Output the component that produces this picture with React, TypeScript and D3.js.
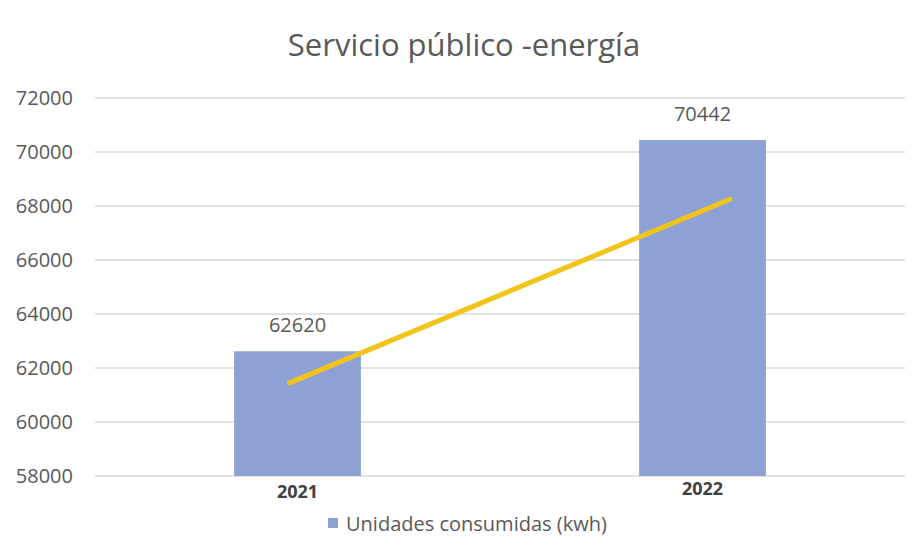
import React from "react";
import * as d3 from "d3";

const categories = ["2021", "2022"];
const values = [62620, 70442];
const yTicks = [58000, 60000, 62000, 64000, 66000, 68000, 70000, 72000];
// trend line endpoints (category index position, value)
const trendX = [-0.02, 1.068];
const trendY = [61450, 68250];
const title = "Servicio público -energía";
const legendLabel = "Unidades consumidas (kwh)";

const W = 919;
const H = 557;
const left = 95;
const right = 905;
const top = 98;
const bottom = 476;

export default function App() {
  const x = d3.scaleBand<string>().domain(categories).range([left, right]).paddingInner(0.687).paddingOuter(0.3435);
  const y = d3.scaleLinear().domain([58000, 72000]).range([bottom, top]);
  const xi = d3
    .scaleLinear()
    .domain([0, 1])
    .range([x(categories[0])! + x.bandwidth() / 2, x(categories[1])! + x.bandwidth() / 2]);
  const line = d3
    .line<number>()
    .x((_, i) => xi(trendX[i]))
    .y((d) => y(d));
  const font = "'Open Sans', 'Noto Sans', sans-serif";
  const textColor = "#595959";
  const xLabelDy = [16, 13];
  return (
    <svg width={W} height={H} style={{ position: "absolute", left: 0, top: 0 }} fontFamily={font}>
      <rect width={W} height={H} fill="#fff" />
      <text x={464} y={56} textAnchor="middle" fontSize={31} fill={textColor}>
        {title}
      </text>
      {yTicks.map((t) => (
        <g key={t}>
          <line x1={left} x2={right} y1={y(t)} y2={y(t)} stroke="#d9d9d9" strokeWidth={1.3} />
          <text x={73} y={y(t)} dy="0.35em" textAnchor="end" fontSize={20} fill={textColor}>
            {t}
          </text>
        </g>
      ))}
      {categories.map((c, i) => (
        <g key={c}>
          <rect x={x(c)} y={y(values[i])} width={x.bandwidth()} height={bottom - y(values[i])} fill="#8EA1D4" />
          <text
            x={x(c)! + x.bandwidth() / 2}
            y={y(values[i]) - 26}
            dy="0.35em"
            textAnchor="middle"
            fontSize={20}
            fill={textColor}
          >
            {values[i]}
          </text>
          <text
            x={x(c)! + x.bandwidth() / 2}
            y={bottom + xLabelDy[i]}
            dy="0.35em"
            textAnchor="middle"
            fontSize={18}
            fontWeight="bold"
            fill="#404040"
          >
            {c}
          </text>
        </g>
      ))}
      <path d={line(trendY)!} fill="none" stroke="#F0C419" strokeWidth={5} strokeLinecap="round" />
      <rect x={328} y={518} width={10} height={10} fill="#8EA1D4" />
      <text x={346} y={524} dy="0.35em" fontSize={20} fill={textColor}>
        {legendLabel}
      </text>
    </svg>
  );
}
